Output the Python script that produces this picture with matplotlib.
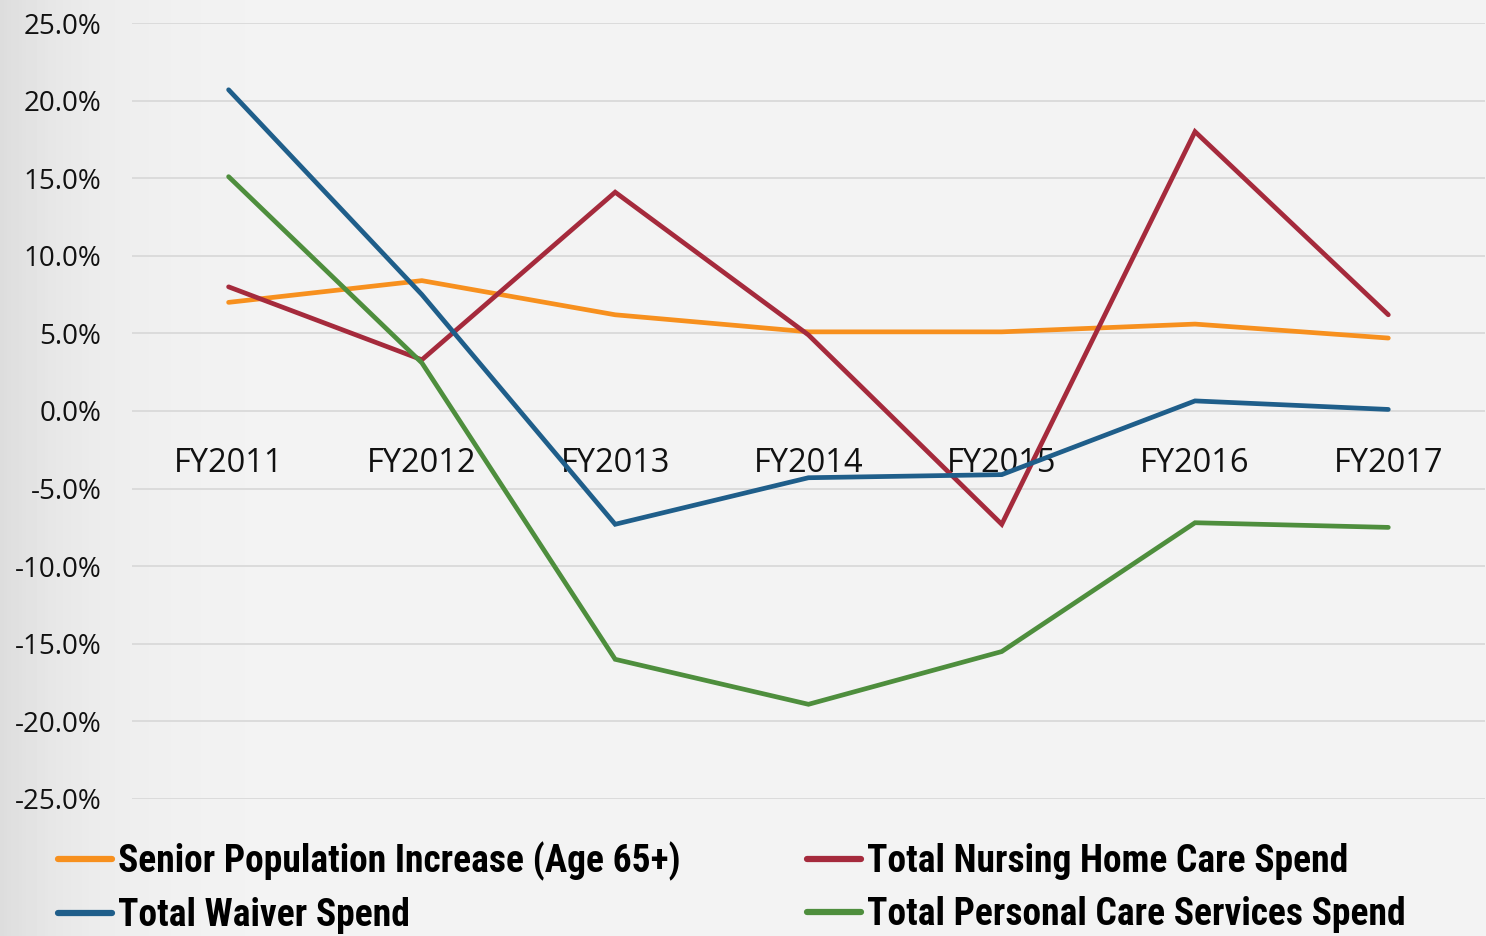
import numpy as np
from matplotlib import pyplot as plt
from matplotlib.ticker import PercentFormatter

plt.rcParams['axes.unicode_minus'] = False

# data (percent change per fiscal year)
years = ['FY2011', 'FY2012', 'FY2013', 'FY2014', 'FY2015', 'FY2016', 'FY2017']
senior_pop = [7.0, 8.4, 6.2, 5.1, 5.1, 5.6, 4.7]
nursing_home = [8.0, 3.3, 14.1, 4.9, -7.3, 18.0, 6.2]
waiver = [20.7, 7.5, -7.3, -4.3, -4.1, 0.65, 0.1]
personal_care = [15.1, 3.1, -16.0, -18.9, -15.5, -7.2, -7.5]

series_names = ['Senior Population Increase (Age 65+)', 'Total Nursing Home Care Spend',
                'Total Waiver Spend', 'Total Personal Care Services Spend']
colors = ['#F7901E', '#A52A3C', '#1F5E8A', '#4E8E3D']

fig = plt.figure(figsize=(14.86, 9.36), dpi=100)

# light grey background, a bit darker on the left edge
bg = fig.add_axes([0, 0, 1, 1], zorder=-10)
xs = np.linspace(0, 1, 400)
shade = 0.955 - 0.09 * np.exp(-xs / 0.06)
bg.imshow(np.tile(shade, (10, 1)), cmap='gray', vmin=0, vmax=1, aspect='auto',
          extent=[0, 1, 0, 1])
bg.axis('off')

ax = fig.add_axes([0.0888, 0.1464, 0.9105, 0.829])
ax.set_facecolor('none')

x = np.arange(len(years))
all_series = [senior_pop, nursing_home, waiver, personal_care]
lines = []
for vals, name, c in zip(all_series, series_names, colors):
    ln, = ax.plot(x, vals, color=c, lw=3.4, label=name, solid_capstyle='round',
                  solid_joinstyle='miter')
    lines.append(ln)

ax.set_xlim(-0.5, len(years) - 0.5)
ax.set_ylim(-25, 25)
ax.set_yticks(np.arange(-25, 26, 5))
ax.yaxis.set_major_formatter(PercentFormatter(decimals=1))
ax.grid(axis='y', color='#d9d9d9', lw=1.3)
ax.set_axisbelow(True)

for side in ['top', 'right', 'left']:
    ax.spines[side].set_visible(False)
ax.spines['bottom'].set_position(('data', 0))
ax.spines['bottom'].set_visible(False)

ax.set_xticks(x)
ax.set_xticklabels(years)
ax.tick_params(axis='x', length=0, pad=26, labelsize=23.5, labelcolor='#111111')
ax.tick_params(axis='y', length=0, pad=22, labelsize=20, labelcolor='#111111')
for lbl in ax.get_xticklabels() + ax.get_yticklabels():
    lbl.set_family('Open Sans')

leg = fig.legend([lines[0], lines[2], lines[1], lines[3]],
                 [series_names[0], series_names[2], series_names[1], series_names[3]],
                 ncol=2, loc='upper left', bbox_to_anchor=(0.039, 0.101),
                 frameon=False, borderpad=0, borderaxespad=0,
                 handlelength=1.45, handletextpad=0.16,
                 columnspacing=3.35, labelspacing=0.42,
                 prop={'family': ['Liberation Sans Narrow', 'Roboto Condensed', 'Roboto'],
                       'weight': 'bold', 'size': 27})
for h in leg.legend_handles:
    h.set_linewidth(4.5)

fig.savefig('out.png', dpi=100)
